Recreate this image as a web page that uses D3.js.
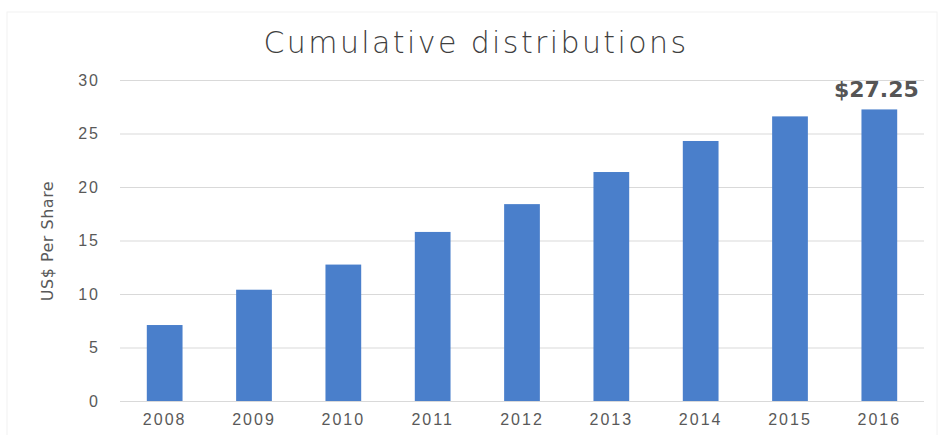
<!DOCTYPE html>
<html>
<head>
<meta charset="utf-8">
<script src="https://cdn.jsdelivr.net/npm/d3@7"></script>
<style>
  body { margin: 0; background: #fff; }
  svg { display: block; font-family: "DejaVu Sans", sans-serif; }
</style>
</head>
<body>
<div id="chart"></div>
<script>
// data
const years = ["2008", "2009", "2010", "2011", "2012", "2013", "2014", "2015", "2016"];
const values = [7.1, 10.4, 12.75, 15.8, 18.4, 21.4, 24.3, 26.6, 27.25];
const yTicks = [0, 5, 10, 15, 20, 25, 30];
const lastLabel = "$27.25";

const W = 940, H = 435;
const margin = {top: 80, right: 16, bottom: 34, left: 120};
const width = W - margin.left - margin.right,
      height = H - margin.top - margin.bottom;

const svg = d3.select("#chart").append("svg")
    .attr("width", W)
    .attr("height", H);

// faint frame round the chart
svg.append("rect")
    .attr("x", 7).attr("y", 12)
    .attr("width", W - 10).attr("height", H - 10)
    .attr("fill", "none")
    .attr("stroke", "#f2f2f2");

svg.append("text")
    .attr("x", 476)
    .attr("y", 53)
    .attr("text-anchor", "middle")
    .attr("fill", "#3f3f3f")
    .style("font-size", "30px")
    .style("font-weight", 200)
    .style("letter-spacing", "2.4px")
    .text("Cumulative distributions");

const g = svg.append("g")
    .attr("transform", `translate(${margin.left}, ${margin.top})`);

const x = d3.scaleBand()
    .domain(years)
    .range([0, width])
    .paddingInner(0.6)
    .paddingOuter(0.3);

const y = d3.scaleLinear()
    .domain([0, 30])
    .range([height, 0]);

// gridlines + y labels
const yAxis = g.append("g")
    .call(d3.axisLeft(y).tickValues(yTicks).tickSize(-width).tickPadding(20));
yAxis.select(".domain").remove();
yAxis.selectAll(".tick line").attr("stroke", "#d9d9d9").attr("stroke-width", 1.2);
yAxis.selectAll(".tick text")
    .attr("fill", "#595959")
    .style("font-size", "16px")
    .style("font-weight", 300)
    .style("letter-spacing", "2px");

// x labels
const xAxis = g.append("g")
    .attr("transform", `translate(0, ${height})`)
    .call(d3.axisBottom(x).tickSize(0).tickPadding(13));
xAxis.select(".domain").remove();
xAxis.selectAll(".tick text")
    .attr("fill", "#595959")
    .style("font-size", "16px")
    .style("font-weight", 300)
    .style("letter-spacing", "2px");

g.selectAll(".bar")
    .data(values)
    .enter().append("rect")
    .attr("class", "bar")
    .attr("x", (d, i) => x(years[i]))
    .attr("y", d => y(d))
    .attr("width", x.bandwidth())
    .attr("height", d => height - y(d))
    .attr("fill", "#4a7fcb");

// value label over the last bar
const last = years.length - 1;
g.append("text")
    .attr("x", x(years[last]) + x.bandwidth() / 2 - 3)
    .attr("y", y(values[last]) - 12)
    .attr("text-anchor", "middle")
    .attr("fill", "#555")
    .style("font-size", "22px")
    .style("font-weight", "bold")
    .text(lastLabel);

svg.append("text")
    .attr("transform", "translate(53, 241) rotate(-90)")
    .attr("text-anchor", "middle")
    .attr("fill", "#595959")
    .style("font-size", "16px")
    .style("letter-spacing", "0.5px")
    .text("US$ Per Share");
</script>
</body>
</html>
